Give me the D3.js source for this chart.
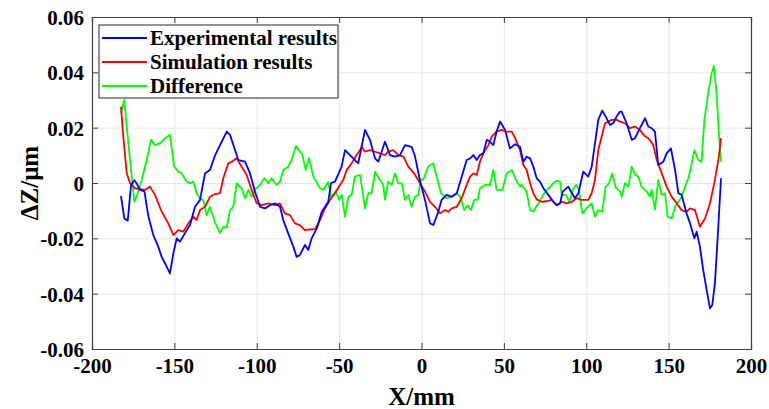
<!DOCTYPE html>
<html>
<head>
<meta charset="utf-8">
<script src="https://cdn.jsdelivr.net/npm/d3@7"></script>
<style>
  body { margin: 0; background: #fff; }
  svg { display: block; }
  text { font-family: "Liberation Serif", "Times New Roman", serif; font-weight: bold; fill: #000; }
</style>
</head>
<body>
<div id="chart"></div>
<script>
'use strict';

// experimental results (blue)
var expX = [-182.4, -180.4, -178.3, -176.3, -174.3, -173.0, -170.9, -168.2, -165.8, -162.8, -159.8, -157.7, -155.7, -152.7,
    -150.6, -148.6, -146.6, -143.6, -140.5, -137.5, -134.4, -131.4, -128.4, -125.3, -122.3, -118.2, -116.2, -113.2, -111.2,
    -107.1, -104.1, -101.1, -98.0, -95.0, -92.0, -88.9, -85.9, -83.9, -80.9, -77.8, -75.8, -73.8, -70.7, -68.7, -66.7, -63.6,
    -60.6, -56.6, -54.9, -52.5, -48.5, -46.4, -43.4, -40.4, -38.4, -34.3, -31.3, -28.2, -26.2, -22.2, -19.1, -16.1, -13.1,
    -10.0, -6.0, -4.0, -1.0, 2.1, 5.2, 7.2, 10.2, 12.2, 15.3, 18.3, 21.4, 24.4, 27.4, 29.5, 31.5, 33.5, 35.5, 37.5, 39.6,
    41.6, 43.6, 45.6, 47.7, 50.7, 53.7, 56.8, 59.8, 61.8, 63.8, 65.9, 67.9, 69.9, 71.9, 74.0, 77.0, 80.0, 82.1, 84.1, 85.7,
    89.1, 90.7, 93.2, 95.2, 98.2, 101.2, 103.3, 105.3, 107.3, 109.7, 111.8, 114.4, 116.4, 118.4, 120.5, 121.5, 124.5, 127.6,
    129.6, 132.6, 135.7, 137.7, 139.7, 141.7, 143.7, 146.8, 148.8, 151.4, 153.9, 155.9, 157.9, 160.9, 163.0, 165.6, 167.0,
    169.0, 171.0, 173.1, 175.1, 176.5, 178.1, 179.8, 181.8];
var expY = [-0.0047, -0.0128, -0.0136, -0.0007, 0.0010, 0.0000, -0.0025, -0.0030, -0.0120, -0.0188, -0.0230, -0.0267, -0.0290, -0.0327,
    -0.0254, -0.0200, -0.0212, -0.0182, -0.0152, -0.0086, -0.0061, 0.0035, 0.0047, 0.0100, 0.0137, 0.0186, 0.0174, 0.0119, 0.0083,
    0.0077, 0.0035, -0.0031, -0.0086, -0.0092, -0.0080, -0.0074, -0.0086, -0.0134, -0.0182, -0.0230, -0.0267, -0.0260, -0.0224, -0.0242, -0.0200, -0.0165,
    -0.0105, -0.0068, 0.0000, 0.0005, 0.0059, 0.0119, 0.0101, 0.0083, 0.0071, 0.0192, 0.0156, 0.0089, 0.0077, 0.0149, 0.0101, 0.0095, 0.0101,
    0.0137, 0.0131, 0.0098, 0.0011, -0.0061, -0.0146, -0.0152, -0.0104, -0.0061, -0.0043, -0.0050, -0.0037, 0.0023, 0.0083, 0.0089, 0.0101, 0.0083, 0.0101, 0.0107, 0.0156,
    0.0149, 0.0137, 0.0186, 0.0222, 0.0192, 0.0125, 0.0140, 0.0131, 0.0077, 0.0095, 0.0089, 0.0059, 0.0017, 0.0005, -0.0019, -0.0043, -0.0068, -0.0080, -0.0074, -0.0031,
    -0.0013, -0.0031, -0.0055, -0.0037, 0.0041, 0.0023, 0.0059, 0.0143, 0.0228, 0.0262, 0.0240, 0.0210, 0.0216, 0.0240, 0.0258, 0.0258, 0.0216, 0.0156,
    0.0162, 0.0198, 0.0234, 0.0204, 0.0198, 0.0186, 0.0065, 0.0077, 0.0107, 0.0125, 0.0047, -0.0037, -0.0043, -0.0110, -0.0146, -0.0200, -0.0176,
    -0.0230, -0.0315, -0.0387, -0.0453, -0.0441, -0.0363, -0.0194, 0.0017];

// simulation results (red)
var simX = [-182.4, -181.0, -178.9, -176.9, -173.9, -167.8, -164.8, -161.8, -157.7, -153.7, -150.6, -147.6, -144.6, -141.5, -138.5,
    -136.5, -134.4, -131.4, -128.4, -125.3, -122.3, -120.3, -117.3, -115.3, -112.2, -109.2, -106.1, -103.1, -100.1, -97.0, -93.0,
    -88.9, -85.9, -82.9, -79.8, -76.8, -73.8, -70.7, -67.7, -64.6, -61.6, -58.6, -55.5, -52.5, -49.5, -47.5, -45.4, -42.4, -39.4,
    -37.3, -36.3, -34.3, -31.3, -28.2, -25.2, -22.2, -20.2, -17.1, -14.1, -11.0, -8.0, -4.5, -1.5, 2.1, 5.2, 8.2, 11.2, 14.3, 16.3,
    18.3, 21.4, 24.4, 27.4, 29.5, 31.5, 33.5, 35.5, 37.5, 40.6, 42.6, 45.6, 48.7, 51.7, 54.8, 56.8, 59.8, 61.8, 63.8, 65.9, 67.9,
    69.9, 72.9, 76.0, 79.0, 82.1, 85.1, 88.1, 91.2, 94.2, 97.2, 101.2, 103.3, 105.3, 107.3, 109.4, 111.4, 113.4, 115.5, 118.5,
    120.5, 123.5, 126.6, 129.6, 132.6, 135.7, 137.7, 140.7, 142.8, 145.8, 148.8, 151.9, 154.9, 157.9, 160.9, 163.0, 166.0, 169.0,
    172.1, 175.1, 178.1, 180.5, 181.8];
var simY = [0.0276, 0.0167, 0.0035, -0.0001, -0.0019, -0.0025, -0.0013, -0.0043, -0.0104, -0.0146, -0.0188, -0.0170, -0.0176, -0.0146, -0.0122,
    -0.0134, -0.0098, -0.0086, -0.0050, -0.0040, -0.0037, 0.0017, 0.0071, 0.0077, 0.0089, 0.0059, 0.0029, -0.0025, -0.0073, -0.0080, -0.0074,
    -0.0080, -0.0074, -0.0110, -0.0116, -0.0146, -0.0152, -0.0170, -0.0168, -0.0167, -0.0134, -0.0092, -0.0061, -0.0037, -0.0007, 0.0011, 0.0047, 0.0071, 0.0101,
    0.0119, 0.0131, 0.0113, 0.0119, 0.0113, 0.0107, 0.0101, 0.0113, 0.0119, 0.0101, 0.0095, 0.0059, 0.0035, 0.0005, -0.0031, -0.0068, -0.0086, -0.0110, -0.0098, -0.0104,
    -0.0092, -0.0086, -0.0055, -0.0007, 0.0023, 0.0035, 0.0029, 0.0077, 0.0107, 0.0137, 0.0168, 0.0186, 0.0192, 0.0186, 0.0186, 0.0162, 0.0119, 0.0065, 0.0047, -0.0001, -0.0037,
    -0.0059, -0.0068, -0.0066, -0.0061, -0.0080, -0.0068, -0.0074, -0.0068, -0.0055, -0.0061, -0.0061, -0.0037, 0.0011, 0.0119, 0.0168, 0.0216, 0.0222, 0.0228, 0.0228,
    0.0222, 0.0216, 0.0198, 0.0204, 0.0192, 0.0168, 0.0162, 0.0137, 0.0083, 0.0035, -0.0013, -0.0050, -0.0073, -0.0098, -0.0104, -0.0092, -0.0098, -0.0158,
    -0.0128, -0.0073, 0.0011, 0.0095, 0.0162];

// difference (green)
var diffX = [-182.4, -180.4, -178.3, -176.3, -174.3, -172.3, -169.8, -166.8, -164.2, -161.8, -158.7, -155.7, -152.7, -150.1, -147.6,
    -145.6, -142.5, -140.5, -138.5, -136.5, -134.4, -132.4, -130.4, -128.4, -125.3, -122.3, -120.3, -118.2, -116.2, -114.2, -112.2,
    -109.2, -107.1, -105.1, -103.1, -101.1, -98.0, -95.4, -93.0, -91.0, -87.9, -85.9, -83.9, -80.9, -78.8, -76.2, -73.8, -72.4, -70.3,
    -68.3, -65.7, -61.6, -59.6, -56.6, -54.9, -52.0, -50.0, -48.5, -46.4, -44.4, -42.4, -40.4, -37.3, -34.3, -32.3, -30.3, -28.2,
    -25.2, -23.2, -22.2, -20.2, -18.1, -16.1, -14.1, -12.0, -10.0, -8.0, -6.0, -4.0, -1.9, -0.5, 1.0, 4.1, 7.2, 9.2, 11.8, 15.3, 18.3,
    21.4, 23.4, 26.0, 28.0, 30.0, 32.1, 34.1, 35.5, 38.6, 41.6, 43.6, 45.6, 49.1, 51.7, 54.8, 57.8, 59.8, 60.8, 63.8, 65.9, 67.9, 70.9,
    73.9, 77.0, 80.0, 82.1, 84.1, 85.1, 87.6, 89.8, 92.2, 93.9, 95.6, 97.6, 100.2, 103.3, 105.3, 107.3, 109.7, 111.8, 113.8, 115.8,
    117.8, 120.5, 121.5, 123.5, 125.6, 127.6, 129.6, 131.6, 133.6, 136.7, 138.7, 139.7, 141.7, 143.7, 145.8, 147.8, 149.4, 151.9,
    153.9, 155.9, 157.9, 160.0, 162.0, 164.0, 165.6, 168.0, 170.0, 171.7, 174.0, 176.1, 177.5, 179.1, 180.5, 181.8];
var diffY = [0.0252, 0.0300, 0.0167, 0.0047, -0.0068, -0.0037, 0.0011, 0.0083, 0.0156, 0.0137, 0.0143, 0.0162, 0.0174, 0.0059, 0.0041,
    0.0035, 0.0005, -0.0001, 0.0005, -0.0037, -0.0055, -0.0062, -0.0116, -0.0086, -0.0143, -0.0181, -0.0158, -0.0160, -0.0098, -0.0086, -0.0001,
    -0.0019, -0.0055, -0.0025, -0.0049, -0.0025, -0.0007, 0.0017, -0.0001, 0.0017, -0.0007, 0.0005, 0.0047, 0.0059, 0.0083, 0.0134, 0.0113, 0.0104, 0.0047,
    0.0089, 0.0023, -0.0019, -0.0025, 0.0005, -0.0050, -0.0031, -0.0061, -0.0043, -0.0122, -0.0050, -0.0043, 0.0023, 0.0029, -0.0092, -0.0037, -0.0037, 0.0041,
    0.0011, -0.0007, -0.0061, 0.0005, -0.0007, 0.0035, -0.0001, -0.0001, -0.0061, -0.0043, -0.0086, -0.0050, -0.0043, 0.0015, 0.0011, 0.0059, 0.0071, 0.0023, -0.0037, -0.0055, -0.0049,
    -0.0037, -0.0049, -0.0098, -0.0080, -0.0098, -0.0061, -0.0061, -0.0019, -0.0007, -0.0007, 0.0047, -0.0025, -0.0025, 0.0035, 0.0047, 0.0005, -0.0013, -0.0007, -0.0031, -0.0098, -0.0104, -0.0074,
    -0.0043, -0.0019, -0.0001, 0.0008, 0.0005, -0.0043, -0.0043, -0.0068, -0.0019, -0.0007, -0.0025, -0.0110, -0.0092, -0.0074, -0.0122, -0.0098, -0.0104, -0.0013, -0.0001, 0.0035,
    -0.0016, -0.0031, -0.0050, -0.0001, -0.0013, 0.0059, 0.0030, 0.0023, -0.0013, -0.0031, -0.0050, -0.0025, -0.0095, 0.0011, -0.0043, -0.0037, -0.0122, -0.0128,
    -0.0086, -0.0068, -0.0050, -0.0013, 0.0017, 0.0071, 0.0119, 0.0083, 0.0077, 0.0228, 0.0324, 0.0397, 0.0423, 0.0324, 0.0180, 0.0077];

var seriesNames = ['Experimental results', 'Simulation results', 'Difference'];
var seriesColors = ['#0000ff', '#ff0000', '#00ff00'];
var xTicks = [-200, -150, -100, -50, 0, 50, 100, 150, 200];
var yTicks = [-0.06, -0.04, -0.02, 0, 0.02, 0.04, 0.06];

var W = 769, H = 409;
var margin = { top: 17, right: 18, bottom: 60, left: 92 };
var width = W - margin.left - margin.right;
var height = H - margin.top - margin.bottom;

var svg = d3.select('#chart').append('svg')
    .attr('width', W)
    .attr('height', H);

var g = svg.append('g')
    .attr('transform', 'translate(' + margin.left + ',' + margin.top + ')');

var x = d3.scaleLinear().domain([-200, 200]).range([0, width]);
var y = d3.scaleLinear().domain([-0.06, 0.06]).range([height, 0]);

// plain hyphen for negatives, like the reference
function xFmt(d) {
    return String(d);
}
function yFmt(d) {
    return d === 0 ? '0' : d.toFixed(2);
}

// grid
g.append('g')
    .attr('class', 'grid')
    .attr('transform', 'translate(0,' + height + ')')
    .call(d3.axisBottom(x).tickValues(xTicks).tickSize(-height).tickFormat(''))
    .call(function(s) { s.select('.domain').remove(); })
    .selectAll('line').style('stroke', '#e6e6e6').style('stroke-width', 1);

g.append('g')
    .attr('class', 'grid')
    .call(d3.axisLeft(y).tickValues(yTicks).tickSize(-width).tickFormat(''))
    .call(function(s) { s.select('.domain').remove(); })
    .selectAll('line').style('stroke', '#e6e6e6').style('stroke-width', 1);

// lines
var line = d3.line()
    .x(function(d) { return x(d[0]); })
    .y(function(d) { return y(d[1]); });

var seriesData = [
    d3.zip(expX, expY),
    d3.zip(simX, simY),
    d3.zip(diffX, diffY)
];

// draw green first so blue/red sit on top like the reference
[2, 1, 0].forEach(function(i) {
    g.append('path')
        .datum(seriesData[i])
        .attr('fill', 'none')
        .attr('stroke', seriesColors[i])
        .attr('stroke-width', 1.8)
        .attr('stroke-linejoin', 'round')
        .attr('d', line);
});

// axes (box with inward ticks)
var axisColor = '#404040';

var xAxis = g.append('g')
    .attr('transform', 'translate(0,' + height + ')')
    .call(d3.axisBottom(x).tickValues(xTicks).tickSize(-6).tickPadding(9).tickFormat(xFmt));

var yAxis = g.append('g')
    .call(d3.axisLeft(y).tickValues(yTicks).tickSize(-6).tickPadding(8).tickFormat(yFmt));

var topAxis = g.append('g')
    .call(d3.axisTop(x).tickValues(xTicks).tickSize(-6).tickFormat(''));

var rightAxis = g.append('g')
    .attr('transform', 'translate(' + width + ',0)')
    .call(d3.axisRight(y).tickValues(yTicks).tickSize(-6).tickFormat(''));

[xAxis, yAxis, topAxis, rightAxis].forEach(function(a) {
    a.attr('font-family', null);
    a.select('.domain').style('stroke', axisColor).style('stroke-width', 1.2);
    a.selectAll('.tick line').style('stroke', axisColor).style('stroke-width', 1);
    a.selectAll('.tick text')
        .style('font-family', '"Liberation Serif", "Times New Roman", serif')
        .style('font-weight', 'bold')
        .style('font-size', '21px')
        .style('fill', '#000');
});

yAxis.selectAll('.tick text').attr('dy', '0.35em');

// axis titles
svg.append('text')
    .attr('x', margin.left + width / 2)
    .attr('y', 405)
    .attr('text-anchor', 'middle')
    .style('font-size', '25px')
    .text('X/mm');

svg.append('text')
    .attr('transform', 'translate(38,' + (margin.top + height / 2) + ') rotate(-90)')
    .attr('text-anchor', 'middle')
    .style('font-size', '25px')
    .text('ΔZ/μm');

// legend
var legend = svg.append('g')
    .attr('transform', 'translate(99,25)');

legend.append('rect')
    .attr('width', 239)
    .attr('height', 73)
    .attr('fill', '#fff')
    .attr('stroke', '#262626')
    .attr('stroke-width', 1);

seriesNames.forEach(function(name, i) {
    var ly = 13 + i * 24;
    legend.append('line')
        .attr('x1', 3)
        .attr('x2', 48)
        .attr('y1', ly)
        .attr('y2', ly)
        .attr('stroke', seriesColors[i])
        .attr('stroke-width', 1.8);
    legend.append('text')
        .attr('x', 51)
        .attr('y', ly)
        .attr('dy', '0.35em')
        .style('font-size', '21px')
        .text(name);
});
</script>
</body>
</html>
